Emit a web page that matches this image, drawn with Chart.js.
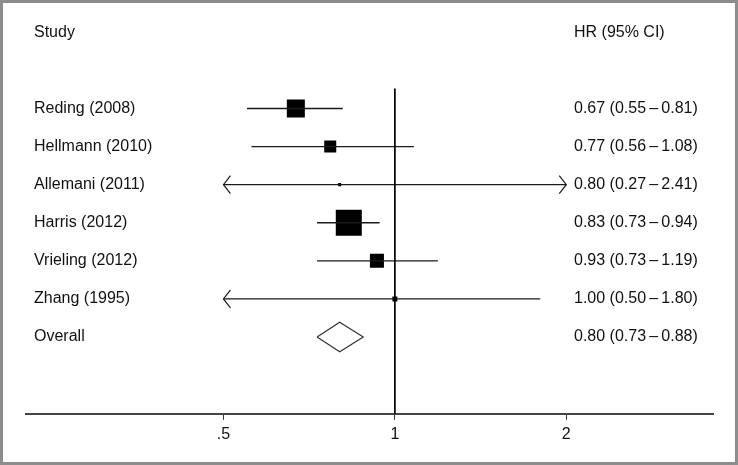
<!DOCTYPE html>
<html>
<head>
<meta charset="utf-8">
<script src="https://cdn.jsdelivr.net/npm/chart.js@4.4.1/dist/chart.umd.min.js"></script>
<style>
  html, body { margin: 0; padding: 0; background: #fff; }
  #wrap { position: relative; width: 738px; height: 465px; }
</style>
</head>
<body>
<div id="wrap"><canvas id="forest" width="738" height="465"></canvas></div>
<script>
// Study data (hazard ratios with 95% CI)
const studies = ['Reding (2008)', 'Hellmann (2010)', 'Allemani (2011)', 'Harris (2012)', 'Vrieling (2012)', 'Zhang (1995)'];
const hr = [0.67, 0.77, 0.80, 0.83, 0.93, 1.00];
const lower = [0.55, 0.56, 0.27, 0.73, 0.73, 0.50];
const upper = [0.81, 1.08, 2.41, 0.94, 1.19, 1.80];
const weights = [23.6, 10.5, 0.7, 49.2, 14.3, 1.8]; // study weight, %
const overall = { label: 'Overall', hr: 0.80, lower: 0.73, upper: 0.88 };
const tickValues = [0.5, 1, 2];
const tickLabels = ['.5', '1', '2'];

const xMin = 0.225, xMax = 3.62;   // axis extent
const clipLo = 0.5, clipHi = 2;    // CI clipped here, arrows beyond
const FONT = '16px "Liberation Sans", Arial, sans-serif';

function fmt(h, l, u) {
    return h.toFixed(2) + ' (' + l.toFixed(2) + '\u2009\u2013\u2009' + u.toFixed(2) + ')';
}

const overallRow = studies.length;
const yTop = -2.366, yBottom = 8.017;
const datasets = [];

// reference line at HR = 1
datasets.push({
    data: [{ x: 1, y: -0.52 }, { x: 1, y: yBottom }],
    showLine: true, borderColor: '#000', borderWidth: 1, pointRadius: 0
});

// confidence intervals
studies.forEach((s, i) => {
    datasets.push({
        data: [{ x: Math.max(lower[i], clipLo), y: i }, { x: Math.min(upper[i], clipHi), y: i }],
        showLine: true, borderColor: '#1a1a1a', borderWidth: 1.3, pointRadius: 0
    });
});

// weighted squares
datasets.push({
    data: hr.map((v, i) => ({ x: v, y: i })),
    pointStyle: 'rect',
    pointRadius: weights.map(w => Math.sqrt(w) * 3.71 / Math.SQRT2),
    backgroundColor: '#000', borderColor: '#000', borderWidth: 0
});

// overall diamond
const dh = 0.39;
datasets.push({
    data: [
        { x: overall.lower, y: overallRow },
        { x: overall.hr, y: overallRow - dh },
        { x: overall.upper, y: overallRow },
        { x: overall.hr, y: overallRow + dh },
        { x: overall.lower, y: overallRow }
    ],
    showLine: true, borderColor: '#333', borderWidth: 1.2, pointRadius: 0, fill: false
});

const forestText = {
    id: 'forestText',
    beforeDraw(chart) {
        const c = chart.ctx;
        c.save();
        c.fillStyle = '#fff';
        c.fillRect(0, 0, chart.width, chart.height);
        c.restore();
    },
    afterDatasetsDraw(chart) {
        const c = chart.ctx;
        const xs = chart.scales.x, ys = chart.scales.y;
        c.save();
        // arrows for clipped CIs
        c.strokeStyle = '#1a1a1a';
        c.lineWidth = 1.2;
        studies.forEach((s, i) => {
            const py = ys.getPixelForValue(i);
            if (lower[i] <= clipLo) {
                const px = xs.getPixelForValue(clipLo);
                c.beginPath();
                c.moveTo(px + 7, py - 9); c.lineTo(px, py); c.lineTo(px + 7, py + 9);
                c.stroke();
            }
            if (upper[i] > clipHi) {
                const px = xs.getPixelForValue(clipHi);
                c.beginPath();
                c.moveTo(px - 7, py - 9); c.lineTo(px, py); c.lineTo(px - 7, py + 9);
                c.stroke();
            }
        });
        // labels
        c.font = FONT;
        c.fillStyle = '#111';
        c.textBaseline = 'middle';
        c.textAlign = 'left';
        const hy = ys.getPixelForValue(-2);
        c.fillText('Study', 34, hy);
        c.fillText('HR (95% CI)', 574, hy);
        studies.forEach((s, i) => {
            const py = ys.getPixelForValue(i);
            c.fillText(s, 34, py);
            c.fillText(fmt(hr[i], lower[i], upper[i]), 574, py);
        });
        const oy = ys.getPixelForValue(overallRow);
        c.fillText(overall.label, 34, oy);
        c.fillText(fmt(overall.hr, overall.lower, overall.upper), 574, oy);
        c.restore();
    },
    afterDraw(chart) {
        const c = chart.ctx;
        c.save();
        c.strokeStyle = '#8c8c8c';
        c.lineWidth = 3;
        c.strokeRect(1.5, 1.5, chart.width - 3, chart.height - 3);
        c.restore();
    }
};

new Chart(document.getElementById('forest'), {
    type: 'scatter',
    data: { datasets },
    options: {
        responsive: false,
        animation: false,
        events: [],
        layout: { padding: { left: 26, right: 25, top: 6, bottom: 16 } },
        plugins: { legend: { display: false }, tooltip: { enabled: false } },
        scales: {
            x: {
                type: 'logarithmic',
                min: xMin, max: xMax,
                afterBuildTicks: (scale) => { scale.ticks = tickValues.map(v => ({ value: v })); },
                ticks: {
                    callback: (v) => tickLabels[tickValues.indexOf(v)],
                    color: '#111', font: { family: '"Liberation Sans", Arial, sans-serif', size: 16 },
                    padding: 5, maxRotation: 0, autoSkip: false
                },
                grid: { display: true, drawOnChartArea: false, drawTicks: true, tickLength: 6, color: '#333' },
                border: { display: true, color: '#444', width: 2 }
            },
            y: {
                type: 'linear', reverse: true, min: yTop, max: yBottom,
                display: false
            }
        }
    },
    plugins: [forestText]
});
</script>
</body>
</html>
